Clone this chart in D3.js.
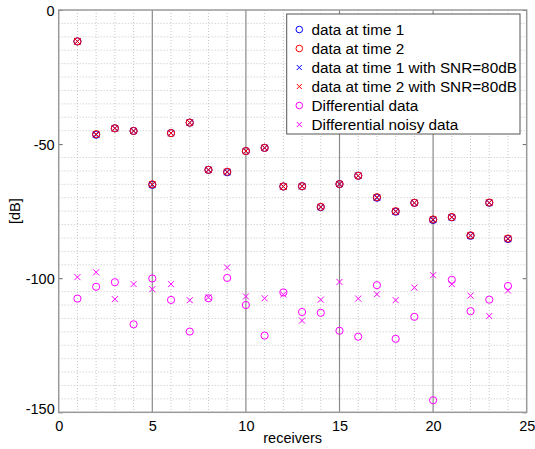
<!DOCTYPE html>
<html><head><meta charset="utf-8">
<script src="https://cdn.jsdelivr.net/npm/d3@7"></script>
<style>body{margin:0;background:#fff}svg{display:block}</style>
</head><body>
<svg id="c" width="535" height="449"></svg>
<script>
const receivers = d3.range(1, 25);
const time2 = [-11.7,-46.3,-44.1,-45.1,-65.0,-45.9,-42.0,-59.6,-60.3,-52.6,-51.4,-65.8,
               -65.7,-73.4,-64.9,-61.8,-69.8,-75.0,-71.9,-78.1,-77.2,-84.0,-71.8,-85.2];
const time1 = [-11.7,-46.5,-44.1,-45.1,-65.2,-45.9,-42.0,-59.6,-60.5,-52.6,-51.4,-65.8,
               -65.7,-73.5,-64.9,-61.8,-70.0,-75.2,-71.9,-78.3,-77.3,-84.2,-71.9,-85.4];
const diffData = [-107.6,-103.2,-101.5,-117.2,-100.1,-108.1,-119.9,-107.5,-99.9,-110.0,-121.4,-105.3,
                  -112.6,-112.9,-119.6,-121.8,-102.6,-122.6,-114.4,-145.5,-100.6,-112.3,-108.0,-102.9];
const diffNoisy = [-99.6,-97.8,-107.8,-102.2,-104.1,-102.2,-108.2,-107.1,-96.0,-106.8,-107.5,-106.1,
                   -115.8,-108.0,-101.4,-107.6,-106.0,-108.2,-103.5,-98.9,-102.2,-106.5,-114.1,-104.6];
const xTicks = [0,5,10,15,20,25];
const yTicks = [0,-50,-100,-150];
const legendLabels = ["data at time 1","data at time 2","data at time 1 with SNR=80dB",
                      "data at time 2 with SNR=80dB","Differential data","Differential noisy data"];

const svg = d3.select("#c");
const L = 58.7, R = 526.7, T = 10, B = 412.3;
const x = d3.scaleLinear().domain([0,25]).range([L,R]);
const y = d3.scaleLinear().domain([-150,0]).range([B,T]);
const font = "Liberation Sans, Arial, Helvetica, sans-serif";

// minor grid
const g = svg.append("g");
g.selectAll(".vx").data(d3.range(1,25).filter(v=>v%5!==0)).join("line")
  .attr("x1",d=>x(d)).attr("x2",d=>x(d)).attr("y1",T).attr("y2",B)
  .attr("stroke","#b8b8b8").attr("stroke-width",0.8).attr("stroke-dasharray","1,2");
g.selectAll(".hy").data(d3.range(-145,0,5).filter(v=>v%50!==0)).join("line")
  .attr("y1",d=>y(d)).attr("y2",d=>y(d)).attr("x1",L).attr("x2",R)
  .attr("stroke","#b8b8b8").attr("stroke-width",0.8).attr("stroke-dasharray","1,2");
// major vertical grid
g.selectAll(".mx").data([5,10,15,20]).join("line")
  .attr("x1",d=>x(d)).attr("x2",d=>x(d)).attr("y1",T).attr("y2",B)
  .attr("stroke","#8a8a8a").attr("stroke-width",1.2);

// axes
const ax = d3.axisBottom(x).tickValues(xTicks).tickSize(0).tickPadding(6).tickFormat(d3.format("d"));
const xa = svg.append("g").attr("transform",`translate(0,${B})`).call(ax);
const ay = d3.axisLeft(y).tickValues(yTicks).tickSize(-4).tickPadding(4).tickFormat(d=>d===0?"0":("-"+Math.abs(d)));
const ya = svg.append("g").attr("transform",`translate(${L},0)`).call(ay);
const ayr = d3.axisRight(y).tickValues(yTicks).tickSize(-4).tickFormat("");
svg.append("g").attr("transform",`translate(${R},0)`).call(ayr);
svg.selectAll(".domain").remove();
svg.selectAll(".tick line").attr("stroke","#666");
svg.selectAll(".tick text").attr("font-family",font).attr("font-size",14.5).attr("fill","#000");
xa.selectAll(".tick text").attr("dy","0.9em");
ya.selectAll(".tick text").attr("dy","0.35em");
ya.selectAll(".tick").filter(d=>d===-150).select("text").attr("dy","0.1em");
// box
svg.append("rect").attr("x",L).attr("y",T).attr("width",R-L).attr("height",B-T)
  .attr("fill","none").attr("stroke","#9a9a9a").attr("stroke-width",1.5);

// labels
svg.append("text").attr("x",(L+R)/2).attr("y",443).attr("text-anchor","middle")
  .attr("font-family",font).attr("font-size",14.5).text("receivers");
svg.append("text").attr("transform",`translate(20,${(T+B)/2}) rotate(-90)`).attr("text-anchor","middle")
  .attr("font-family",font).attr("font-size",14.5).text("[dB]");

// markers
function circles(data,color){
  svg.append("g").selectAll("circle").data(data).join("circle")
    .attr("cx",(d,i)=>x(receivers[i])).attr("cy",d=>y(d)).attr("r",3.6)
    .attr("fill","none").attr("stroke",color).attr("stroke-width",1);
}
function crosses(data,color){
  const s=3;
  svg.append("g").selectAll("path").data(data).join("path")
    .attr("d",(d,i)=>{const cx=x(receivers[i]),cy=y(d);
      return `M${cx-s},${cy-s}L${cx+s},${cy+s}M${cx-s},${cy+s}L${cx+s},${cy-s}`;})
    .attr("fill","none").attr("stroke",color).attr("stroke-width",1);
}
circles(time1,"#0000ff");
circles(time2,"#ff0000");
crosses(time1,"#0000ff");
crosses(time2,"#ff0000");
circles(diffData,"#ff00ff");
crosses(diffNoisy,"#ff00ff");

// legend
const lg = svg.append("g");
lg.append("rect").attr("x",286.7).attr("y",14).attr("width",233.3).attr("height",120)
  .attr("fill","#fff").attr("stroke","#555").attr("stroke-width",1);
const legColors = ["#0000ff","#ff0000","#0000ff","#ff0000","#ff00ff","#ff00ff"];
const legShape = ["o","o","x","x","o","x"];
legendLabels.forEach((t,i)=>{
  const cy = 29.5 + i*19;
  if(legShape[i]==="o"){
    lg.append("circle").attr("cx",299.3).attr("cy",cy).attr("r",3.3).attr("fill","none")
      .attr("stroke",legColors[i]).attr("stroke-width",1);
  } else {
    const s=2.5;
    lg.append("path").attr("d",`M${299.3-s},${cy-s}L${299.3+s},${cy+s}M${299.3-s},${cy+s}L${299.3+s},${cy-s}`)
      .attr("stroke",legColors[i]).attr("stroke-width",1);
  }
  lg.append("text").attr("x",311.5).attr("y",cy).attr("dy","0.35em")
    .attr("font-family",font).attr("font-size",15.3).attr("fill","#000").text(t);
});
</script>
</body></html>
